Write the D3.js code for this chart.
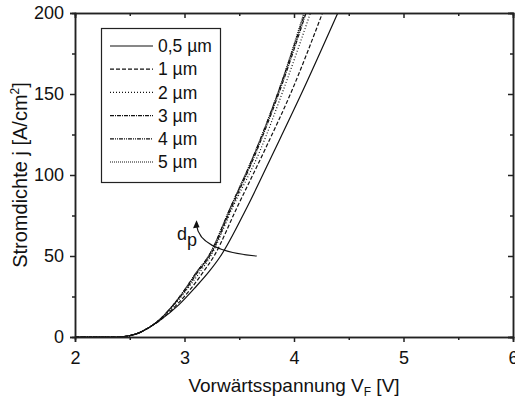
<!DOCTYPE html>
<html>
<head>
<meta charset="utf-8">
<script src="https://cdn.jsdelivr.net/npm/d3@7"></script>
<style>
	body { margin: 0; background: #fff; }
	text { font-family: "Liberation Sans", Arial, sans-serif; fill: #111; }
</style>
</head>
<body>
<div id="chart"></div>
<script>

// current density levels (A/cm2) at which the voltage of each curve was read
var jLevels = [0, 0, 1, 3, 6, 10, 20, 30, 40, 50, 80, 115, 152, 200];

// forward voltage (V) of each curve at the levels above
var v05 = [2.0, 2.40, 2.51, 2.60, 2.68, 2.77, 2.95, 3.09, 3.22, 3.33, 3.57, 3.82, 4.08, 4.40];
var v1  = [2.0, 2.40, 2.51, 2.60, 2.68, 2.77, 2.93, 3.06, 3.17, 3.27, 3.48, 3.73, 3.98, 4.26];
var v2  = [2.0, 2.40, 2.51, 2.60, 2.68, 2.76, 2.91, 3.03, 3.14, 3.24, 3.44, 3.69, 3.90, 4.15];
var v3  = [2.0, 2.40, 2.51, 2.60, 2.68, 2.76, 2.90, 3.02, 3.12, 3.23, 3.43, 3.66, 3.87, 4.11];
var v4  = [2.0, 2.40, 2.51, 2.60, 2.68, 2.76, 2.90, 3.01, 3.11, 3.22, 3.42, 3.65, 3.86, 4.10];
var v5  = [2.0, 2.40, 2.51, 2.60, 2.68, 2.76, 2.90, 3.01, 3.11, 3.22, 3.42, 3.65, 3.86, 4.09];

var seriesNames = ["0,5 µm", "1 µm", "2 µm", "3 µm", "4 µm", "5 µm"];
var seriesValues = [v05, v1, v2, v3, v4, v5];
var dashes = ["none", "4,2", "1,2", "4,1,1,1", "4,1,1,1,1,1", "1,1"];

var xTicks = [2, 3, 4, 5, 6];
var xMinor = [2.5, 3.5, 4.5, 5.5];
var yTicks = [0, 50, 100, 150, 200];
var yMinor = [25, 75, 125, 175];

// arrow for increasing d_p (data coords): start, control, tip
var arrowPts = [[3.66, 50], [3.14, 53], [3.11, 72]];

var width = 515, height = 403;
var plot = {left: 75, right: 513, top: 13, bottom: 337};
var fontSize = 18;

var svg = d3.select("#chart").append("svg")
	.attr("width", width)
	.attr("height", height);

var xScale = d3.scaleLinear().domain([2, 6]).range([plot.left, plot.right]);
var yScale = d3.scaleLinear().domain([0, 200]).range([plot.bottom, plot.top]);

svg.append("clipPath").attr("id", "clip")
	.append("rect")
	.attr("x", plot.left).attr("y", plot.top)
	.attr("width", plot.right - plot.left)
	.attr("height", plot.bottom - plot.top);

// curves
var line = d3.line()
	.x(function(d) { return xScale(d[0]); })
	.y(function(d) { return yScale(d[1]); })
	.curve(d3.curveMonotoneX);

seriesValues.forEach(function(vals, i) {
	var pts = vals.map(function(v, k) { return [v, jLevels[k]]; });
	svg.append("path")
		.attr("clip-path", "url(#clip)")
		.attr("d", line(pts))
		.attr("fill", "none")
		.attr("stroke", "#111")
		.attr("stroke-width", 1.2)
		.attr("stroke-dasharray", dashes[i]);
});

// axes: major + minor, outer ticks on left/bottom, inner ticks on top/right
function drawAxis(axis, tx, ty) {
	var g = svg.append("g")
		.attr("transform", "translate(" + tx + "," + ty + ")")
		.call(axis);
	g.select(".domain").attr("stroke", "#222").attr("stroke-width", 1.5);
	g.selectAll(".tick line").attr("stroke", "#222").attr("stroke-width", 1.5);
	g.selectAll("text").attr("font-size", fontSize).attr("font-family", "Liberation Sans, Arial, sans-serif").attr("fill", "#111");
	return g;
}

drawAxis(d3.axisBottom(xScale).tickValues(xTicks).tickSize(5).tickPadding(9).tickFormat(d3.format("d")), 0, plot.bottom);
drawAxis(d3.axisBottom(xScale).tickValues(xMinor).tickSize(3).tickFormat(""), 0, plot.bottom);
drawAxis(d3.axisLeft(yScale).tickValues(yTicks).tickSize(5).tickPadding(6).tickFormat(d3.format("d")), plot.left, 0);
drawAxis(d3.axisLeft(yScale).tickValues(yMinor).tickSize(3).tickFormat(""), plot.left, 0);
drawAxis(d3.axisTop(xScale).tickValues(xTicks).tickSize(-5).tickFormat(""), 0, plot.top);
drawAxis(d3.axisTop(xScale).tickValues(xMinor).tickSize(-3).tickFormat(""), 0, plot.top);
drawAxis(d3.axisRight(yScale).tickValues(yTicks).tickSize(-5).tickFormat(""), plot.right, 0);
drawAxis(d3.axisRight(yScale).tickValues(yMinor).tickSize(-3).tickFormat(""), plot.right, 0);

// axis titles
var xTitle = svg.append("text")
	.attr("x", 294)
	.attr("y", 392)
	.attr("text-anchor", "middle")
	.attr("font-size", 19);
xTitle.append("tspan").text("Vorwärtsspannung V");
xTitle.append("tspan").attr("font-size", 12).attr("dy", 4).text("F");
xTitle.append("tspan").attr("dy", -4).text(" [V]");

var yTitle = svg.append("text")
	.attr("transform", "translate(27," + 175 + ") rotate(-90)")
	.attr("text-anchor", "middle")
	.attr("font-size", 20);
yTitle.append("tspan").text("Stromdichte j [A/cm");
yTitle.append("tspan").attr("font-size", 12).attr("dy", -8).text("2");
yTitle.append("tspan").attr("dy", 8).text("]");

// legend
var legend = svg.append("g");
legend.append("rect")
	.attr("x", 101.5).attr("y", 28.5)
	.attr("width", 119).attr("height", 154)
	.attr("fill", "#fff")
	.attr("stroke", "#222")
	.attr("stroke-width", 1.2);

seriesNames.forEach(function(name, i) {
	var yy = 46 + i * 23.2;
	legend.append("line")
		.attr("x1", 110).attr("x2", 153)
		.attr("y1", yy).attr("y2", yy)
		.attr("stroke", "#111")
		.attr("stroke-width", 1.2)
		.attr("stroke-dasharray", dashes[i]);
	legend.append("text")
		.attr("x", 158).attr("y", yy)
		.attr("dy", "0.35em")
		.attr("font-size", 17.5)
		.text(name);
});

// d_p arrow
var arrowPath = d3.path();
arrowPath.moveTo(xScale(arrowPts[0][0]), yScale(arrowPts[0][1]));
arrowPath.quadraticCurveTo(xScale(arrowPts[1][0]), yScale(arrowPts[1][1]), xScale(arrowPts[2][0]), yScale(arrowPts[2][1]) + 5);
svg.append("path")
	.attr("d", arrowPath.toString())
	.attr("fill", "none")
	.attr("stroke", "#111")
	.attr("stroke-width", 1.1);

var tipX = xScale(arrowPts[2][0]), tipY = yScale(arrowPts[2][1]);
svg.append("path")
	.attr("d", "M" + tipX + "," + tipY + "L" + (tipX - 3.5) + "," + (tipY + 8) + "L" + (tipX + 3) + "," + (tipY + 7) + "Z")
	.attr("fill", "#111");

var dLabel = svg.append("text")
	.attr("x", 177).attr("y", 240)
	.attr("font-size", 18);
dLabel.append("tspan").text("d");
dLabel.append("tspan").attr("dy", 6).text("p");

</script>
</body>
</html>
